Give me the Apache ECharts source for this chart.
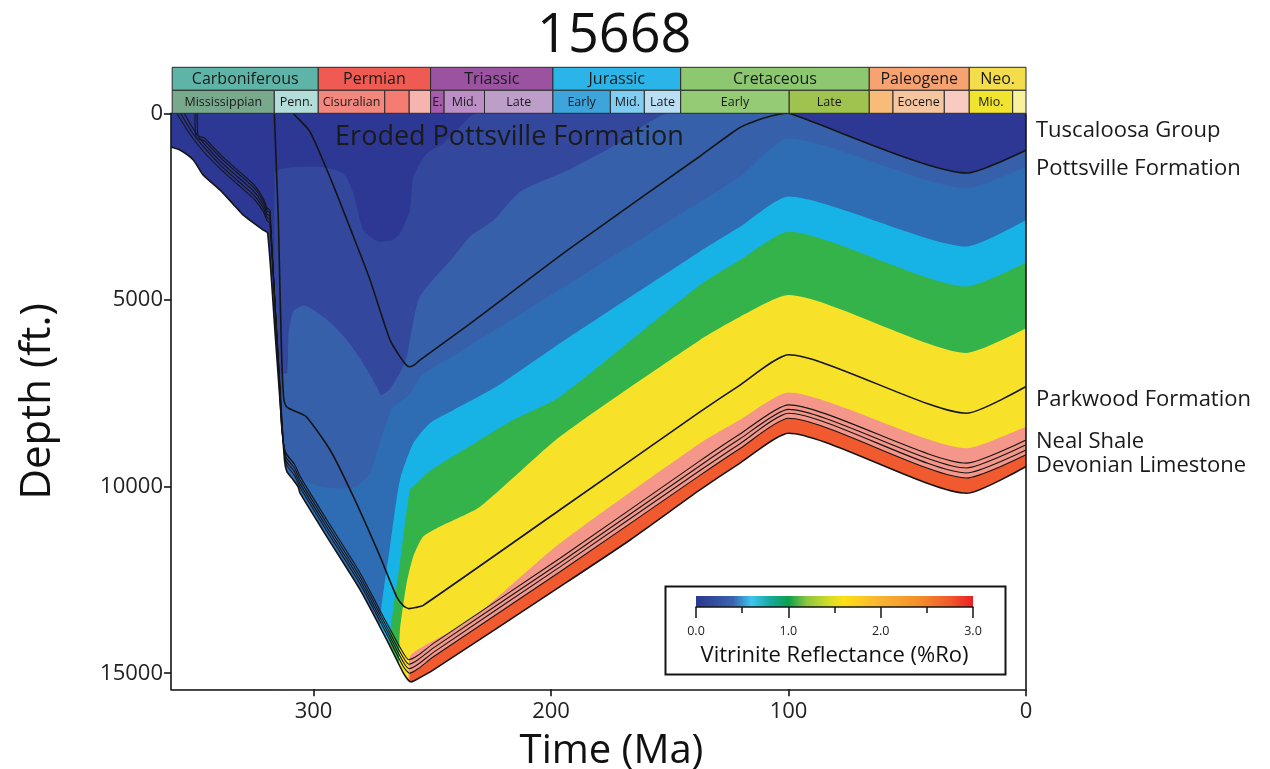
<!DOCTYPE html>
<html>
<head>
<meta charset="utf-8">
<title>15668</title>
<script src="https://cdn.jsdelivr.net/npm/echarts@6/dist/echarts.min.js"></script>
<style>
  html, body { margin: 0; padding: 0; background: #fff; }
  #main { width: 1270px; height: 769px; }
</style>
</head>
<body>
<div id="main"></div>
<script>
// burial history of well 15668 - ages in Ma, depths in ft
const FONT = '"Open Sans", "DejaVu Sans", sans-serif';
const DEPTH_MAX = 15430;

// geologic time scale
const periodNames = ['Carboniferous', 'Permian', 'Triassic', 'Jurassic', 'Cretaceous', 'Paleogene', 'Neo.'];
const periodAges = [359.5, 298, 250.7, 199.2, 145.4, 66, 23.9, 0];
const epochNames = ['Mississippian', 'Penn.', 'Cisuralian', '', '', 'E.', 'Mid.', 'Late', 'Early', 'Mid.', 'Late',
  'Early', 'Late', '', 'Eocene', '', 'Mio.', ''];
const epochAges = [359.5, 316.5, 298, 270, 259.7, 250.7, 245, 228, 199.2, 175, 160.7, 145.4, 99.7, 66, 56, 34.4, 23.9, 5.6, 0];
const periodColors = ['#5eb4a7', '#ef5b52', '#9b52a1', '#2bb4e7', '#8dc871', '#f7a371', '#f3dd4c'];
const epochColors = ['#79a98d', '#b3ddd8', '#f2877d', '#f47c72', '#f7b4af', '#a65ca9', '#bb8fc5', '#bd9ec9',
  '#3ea4dc', '#7fcdf1', '#badff5', '#94cb74', '#a0c34f', '#f9bb78', '#f6c6a1', '#f8cac1', '#f1e42e', '#f8f29c'];

// axis ticks
const timeTicks = [0, 100, 200, 300];
const depthTicks = [0, 5000, 10000, 15000];

// base of the section
const basement = [[360, 900], [356.2, 983], [350.6, 1250], [346.5, 1650], [339.4, 2050], [334.3, 2400], [329.7, 2720],
  [321.3, 3120], [319.3, 3214], [316, 6040], [312.2, 9300], [311.2, 9600], [309, 9780], [306.5, 10000], [305.7, 10170],
  [294.4, 11340], [280.4, 12760], [269.2, 14100], [262.2, 14990], [260, 15190], [258.8, 15230], [257, 15180],
  [249.5, 14910], [196.2, 12680], [166.7, 11430], [137.3, 10090], [120.4, 9370], [100, 8570], [25, 10180], [0, 9460]];

// vitrinite reflectance zones: top of each zone (deepest first)
const redTop = [[360, 15430], [259.6, 15430], [259.5, 15000], [256, 14900], [249.5, 14580], [196.2, 12290],
  [137.3, 9700], [120.4, 8980], [100, 8170], [25, 9770], [0, 9150]];
const salmonTop = [[360, 15430], [260.1, 15430], [260, 15100], [259.4, 14550], [238.3, 13750], [227, 13210],
  [196.2, 11520], [137.3, 8840], [120.4, 8210], [100, 7480], [25, 8970], [0, 8390]];
const yellowTop = [[360, 15430], [264.1, 15430], [264, 14700], [263.6, 13840], [260.8, 12590], [258, 11870],
  [253.8, 11340], [246.7, 11070], [229.9, 10540], [196.2, 8660], [137.3, 6070], [120.4, 5450], [100, 4870],
  [25, 6420], [0, 5760]];
const greenTop = [[360, 15430], [268.1, 15430], [268, 14200], [263.6, 12050], [259.4, 10090], [256.5, 9910],
  [252.3, 9640], [243.9, 9290], [229.9, 8750], [215.9, 8210], [196.2, 7590], [137.3, 4600], [120.4, 3930],
  [100, 3170], [25, 4640], [0, 4000]];
const cyanTop = [[360, 15430], [272.1, 15430], [272, 13700], [267.8, 11610], [263.6, 9820], [258, 8840], [251, 8300],
  [241.1, 7950], [222.9, 7320], [196.2, 6160], [137.3, 3700], [120.4, 3040], [100, 2230], [25, 3570], [0, 2860]];
const blue3Top = [[360, 15430], [312.4, 15430], [312.2, 9300], [311, 9450], [308, 9650], [300, 9950], [290, 10050],
  [282, 10000], [276, 9600], [271, 8600], [267, 7900], [263, 7700], [259, 7500], [255, 7050], [240, 6450],
  [220, 5660], [196, 4710], [137.3, 2370], [120.4, 1700], [100, 670], [25, 2010], [0, 1430]];
const blue2Top = [[360, 15430], [313.6, 15430], [313.4, 7000], [311, 6950], [310.5, 5900], [308.5, 5300],
  [304, 5150], [300, 5270], [293, 5600], [286, 6070], [280, 6600], [273.4, 7320], [271.6, 7550], [268, 7400],
  [264, 7000], [261, 6600], [259.4, 6070], [255.2, 4910], [241, 3840], [234, 3300], [224, 2850], [213, 2100],
  [192, 1500], [174, 890], [150, 0], [100, 0], [97, 60], [25, 1600], [0, 990]];
const blue1Top = [[360, 15430], [316.6, 15430], [316.4, 1600], [310, 1450], [297.3, 1430], [287.4, 1610],
  [283.2, 2140], [279, 3130], [272, 3440], [267, 3400], [263.6, 3210], [259.4, 2590], [258, 1700], [252.3, 1070],
  [245.4, 800], [234.1, 90], [231.3, 0], [100, 0], [97, 60], [25, 1600], [0, 990]];

// horizons
const horizonL4 = [[357.6, 0], [352, 560], [346, 1050], [339, 1500], [332, 1900], [325, 2300], [321, 2650],
  [319.5, 2880], [318.3, 2950], [312.8, 8700], [311.5, 9400], [308, 9700], [305.5, 10040], [294.4, 11190],
  [280.4, 12610], [269.2, 13950], [262.2, 14820], [259.6, 15000], [256, 14880], [249.5, 14560], [196.2, 12280],
  [137.3, 9700], [120.4, 8980], [100, 8170], [25, 9770], [0, 9150]];
const horizonL3 = [[356, 0], [351, 520], [346, 920], [339, 1400], [332, 1800], [325, 2200], [321, 2560],
  [319.5, 2790], [318.3, 2850], [313, 8600], [311.6, 9300], [308, 9600], [305.5, 9940], [294.4, 11090],
  [280.4, 12510], [269.2, 13850], [262.2, 14700], [259.7, 14880], [256, 14760], [249.5, 14440], [196.2, 12150],
  [137.3, 9570], [120.4, 8850], [100, 8035], [25, 9635], [0, 9020]];
const horizonL2 = [[354.5, 0], [350, 480], [346, 820], [339, 1300], [332, 1700], [325, 2100], [321, 2470],
  [319.5, 2700], [318.3, 2760], [313.2, 8500], [311.7, 9200], [308, 9500], [305.5, 9840], [294.4, 10990],
  [280.4, 12410], [269.2, 13750], [262.2, 14580], [259.8, 14760], [256, 14640], [249.5, 14320], [196.2, 12040],
  [137.3, 9440], [120.4, 8720], [100, 7930], [25, 9500], [0, 8880]];
const horizonL1 = [[349.9, 0], [349.4, 650], [346, 740], [339, 1200], [332, 1600], [325, 2000], [321, 2380],
  [319.5, 2610], [318.3, 2670], [313.4, 8400], [311.8, 9100], [308, 9400], [305.5, 9740], [294.4, 10890],
  [280.4, 12310], [269.2, 13650], [262.2, 14460], [259.9, 14640], [256, 14520], [249.5, 14200], [196.2, 11920],
  [137.3, 9310], [120.4, 8590], [100, 7810], [25, 9370], [0, 8750]];
const horizonL0 = [[349, 0], [348.6, 600], [346, 660], [339, 1120], [332, 1520], [325, 1920], [321, 2300],
  [319.5, 2540], [318.3, 2600], [313.6, 8300], [311.9, 9050], [308, 9400]];
const parkwoodTop = [[316.5, 0], [315.6, 1500], [314.8, 2860], [314.2, 4500], [313.4, 6500], [312.6, 7600],
  [311.8, 7820], [310.5, 7900], [307, 8000], [303, 8130], [293, 9020], [283.2, 10270], [272, 11870], [265, 12950],
  [262, 13200], [259.8, 13270], [257, 13240], [253.8, 13180], [196.2, 10620], [137.3, 8000], [120.4, 7280],
  [100, 6470], [25, 8035], [0, 7320]];
const pottsvilleTop = [[308.5, 0], [307.8, 50], [301.5, 490], [292.3, 1830], [283.2, 3300], [276.2, 4460],
  [267.8, 6070], [263.6, 6520], [261, 6740], [259.5, 6790], [257.5, 6740], [255.2, 6610], [235.5, 5700],
  [192, 3620], [137.3, 1150], [120.4, 380], [110, 120], [104, 25], [100, 0], [97, 60], [25, 1600], [0, 990]];
// right frame of the plot at present day
const presentDay = [[0, 0], [0, DEPTH_MAX]];

const formationNames = ['Tuscaloosa Group', 'Pottsville Formation', 'Parkwood Formation', 'Neal Shale', 'Devonian Limestone'];
const formationDepths = [474, 1492, 7680, 8805, 9448];
const erodedLabel = 'Eroded Pottsville Formation';
const erodedAt = [217.5, 635];

// colour bar of the reflectance scale
const barRo = [0, 0.4, 0.6, 0.8, 1.0, 1.2, 1.45, 1.6, 2.0, 2.4, 2.75, 3.0];
const barColors = ['#2b3990', '#3a63ad', '#3ec5f0', '#1aa8a0', '#0aa04b', '#8dc63f', '#d5dd25', '#fde014',
  '#f9b233', '#f3902b', '#ef5a2a', '#ec2024'];

// fills are painted deepest first, each from the surface down to its boundary
const bandBounds = [basement, redTop, salmonTop, yellowTop, greenTop, cyanTop, blue3Top, blue2Top, blue1Top];
const bandColors = ['#f15a2f', '#f4978a', '#f8e229', '#33b34a', '#17b3e6', '#2e6cb4', '#3760aa', '#33479d', '#2c3893'];
const SMOOTH = 0.2;

const chart = echarts.init(document.getElementById('main'));

const timescaleData = [];
periodNames.forEach((n, i) => timescaleData.push([periodAges[i], periodAges[i + 1], 0, i]));
epochNames.forEach((n, i) => timescaleData.push([epochAges[i], epochAges[i + 1], 1, i]));

const fillSeries = bandBounds.map((b, i) => ({
  type: 'line', data: b, symbol: 'none', silent: true, z: 1, smooth: SMOOTH,
  lineStyle: { width: 0 },
  areaStyle: { origin: 'start', color: bandColors[i], opacity: 1 }
}));

const maskSeries = {
  type: 'line', data: basement, symbol: 'none', silent: true, z: 1, smooth: SMOOTH,
  lineStyle: { width: 0 },
  areaStyle: { origin: 'end', color: '#ffffff', opacity: 1 }
};

function blackLine(data, w, smooth) {
  return { type: 'line', data: data, symbol: 'none', silent: true, z: 3, smooth: smooth,
    lineStyle: { color: '#151515', width: w } };
}

const lineSeries = [
  blackLine(basement, 1.6, SMOOTH),
  blackLine(horizonL4, 1.1, SMOOTH), blackLine(horizonL3, 1.1, SMOOTH), blackLine(horizonL2, 1.1, SMOOTH),
  blackLine(horizonL1, 1.1, SMOOTH), blackLine(horizonL0, 1.1, SMOOTH),
  blackLine(parkwoodTop, 1.6, SMOOTH), blackLine(pottsvilleTop, 1.6, SMOOTH),
  Object.assign(blackLine(presentDay, 1.6, false), { clip: false, z: 5 })
];

function textStyle(text, font, align) {
  return { text: text, fill: '#1a1a1a', font: font,
    align: align, verticalAlign: 'middle', textAlign: align, textVerticalAlign: 'middle' };
}

const option = {
  animation: false,
  backgroundColor: '#fff',
  title: {
    text: '15668', left: 532, top: 5,
    textStyle: { fontSize: 54, fontWeight: 'normal', color: '#111', fontFamily: FONT }
  },
  grid: [
    { left: 171, top: 113.3, width: 855, height: 576, containLabel: false, outerBoundsMode: 'none' },
    { left: 696, top: 596, width: 277, height: 11, containLabel: false, outerBoundsMode: 'none' }
  ],
  xAxis: [
    {
      gridIndex: 0, type: 'value', min: 0, max: 360, interval: 100, inverse: true, z: 5,
      axisLine: { onZero: false, lineStyle: { color: '#151515', width: 1.6 } },
      axisTick: { length: 7, lineStyle: { width: 1.6 }, customValues: timeTicks },
      axisLabel: { fontSize: 22, color: '#222', margin: 11, fontFamily: FONT, customValues: timeTicks },
      splitLine: { show: false },
      name: 'Time (Ma)', nameLocation: 'middle', nameGap: 42,
      nameTextStyle: { fontSize: 40, color: '#111', fontFamily: FONT, padding: [0, 0, 0, 26] }
    },
    {
      gridIndex: 1, type: 'value', min: 0, max: 3, interval: 1, z: 12,
      axisLine: { onZero: false, lineStyle: { color: '#151515', width: 1.5 } },
      axisTick: { length: 11, lineStyle: { width: 1.5 } },
      minorTick: { show: true, splitNumber: 2, length: 6, lineStyle: { color: '#151515', width: 1.5 } },
      axisLabel: { fontSize: 12.5, color: '#222', margin: 18, fontFamily: FONT, formatter: v => v.toFixed(1) },
      splitLine: { show: false },
      name: 'Vitrinite Reflectance (%Ro)', nameLocation: 'middle', nameGap: 38,
      nameTextStyle: { fontSize: 22, color: '#111', fontFamily: FONT }
    }
  ],
  yAxis: [
    {
      gridIndex: 0, type: 'value', min: 0, max: DEPTH_MAX, interval: 5000, inverse: true, z: 5,
      axisLine: { onZero: false, lineStyle: { color: '#151515', width: 1.6 } },
      axisTick: { length: 7, lineStyle: { width: 1.6 }, customValues: depthTicks },
      axisLabel: { fontSize: 22, color: '#222', margin: 8, fontFamily: FONT, customValues: depthTicks,
        formatter: v => String(v) },
      splitLine: { show: false },
      name: 'Depth (ft.)', nameLocation: 'middle', nameGap: 112, nameRotate: 90,
      nameTextStyle: { fontSize: 42, color: '#111', fontFamily: FONT }
    },
    { gridIndex: 1, type: 'value', min: 0, max: 1, show: false }
  ],
  graphic: [{
    type: 'rect', left: 663, top: 584, z: 10, silent: true,
    shape: { width: 340, height: 88 },
    style: { fill: 'none', stroke: '#151515', lineWidth: 2 }
  }],
  series: [
    ...fillSeries,
    maskSeries,
    ...lineSeries,
    {
      // time scale boxes above the plot
      type: 'custom', xAxisIndex: 0, yAxisIndex: 0, z: 6, clip: false, silent: true,
      data: timescaleData,
      renderItem: (params, api) => {
        const row = api.value(2), k = api.value(3);
        const a = api.coord([api.value(0), 0]);
        const b = api.coord([api.value(1), 0]);
        const h = 23;
        const y = a[1] - h * (2 - row);
        const name = row === 0 ? periodNames[k] : epochNames[k];
        const fill = row === 0 ? periodColors[k] : epochColors[k];
        return {
          type: 'group',
          children: [
            { type: 'rect', shape: { x: a[0], y: y, width: b[0] - a[0], height: h },
              style: { fill: fill, stroke: '#2a2a2a', lineWidth: 1 } },
            { type: 'text', x: (a[0] + b[0]) / 2, y: y + h / 2 + 1,
              style: textStyle(name, (row === 0 ? '16px ' : '12.5px ') + FONT, 'center') }
          ]
        };
      }
    },
    {
      // formation names at the right edge
      type: 'custom', xAxisIndex: 0, yAxisIndex: 0, z: 6, clip: false, silent: true,
      data: formationDepths.map((d, i) => [0, d, i]),
      renderItem: (params, api) => {
        const p = api.coord([api.value(0), api.value(1)]);
        return { type: 'text', x: p[0] + 10, y: p[1],
          style: textStyle(formationNames[api.value(2)], '22px ' + FONT, 'left') };
      }
    },
    {
      type: 'custom', xAxisIndex: 0, yAxisIndex: 0, z: 6, silent: true,
      data: [erodedAt],
      renderItem: (params, api) => {
        const p = api.coord([api.value(0), api.value(1)]);
        return { type: 'text', x: p[0], y: p[1], style: textStyle(erodedLabel, '27px ' + FONT, 'center') };
      }
    },
    {
      // reflectance colour bar
      type: 'custom', xAxisIndex: 1, yAxisIndex: 1, z: 11, silent: true,
      data: [[barRo[0], barRo[barRo.length - 1]]],
      renderItem: (params, api) => {
        const p0 = api.coord([api.value(0), 1]);
        const p1 = api.coord([api.value(1), 0]);
        const span = barRo[barRo.length - 1] - barRo[0];
        const stops = barRo.map((v, i) => ({ offset: (v - barRo[0]) / span, color: barColors[i] }));
        return { type: 'rect', shape: { x: p0[0], y: p0[1], width: p1[0] - p0[0], height: p1[1] - p0[1] },
          style: { fill: new echarts.graphic.LinearGradient(0, 0, 1, 0, stops) } };
      }
    }
  ]
};

chart.setOption(option);
window.addEventListener('resize', () => chart.resize());
</script>
</body>
</html>
